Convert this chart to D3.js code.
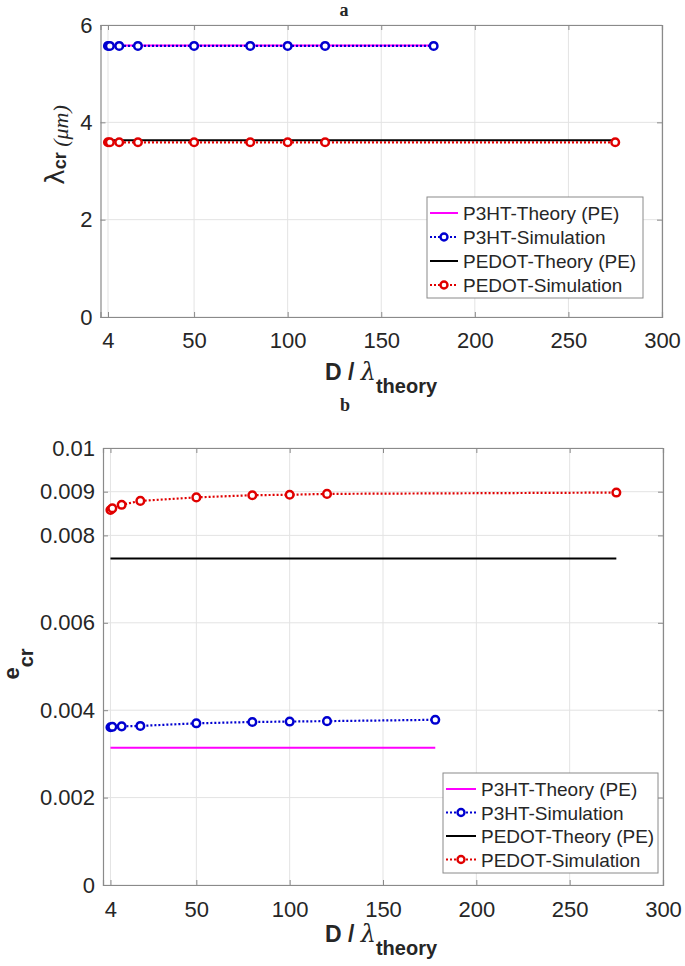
<!DOCTYPE html>
<html>
<head>
<meta charset="utf-8">
<script src="https://cdn.jsdelivr.net/npm/d3@7"></script>
<style>
  body { margin: 0; background: #fff; }
  svg { display: block; }
  text { font-family: "Liberation Sans", Arial, sans-serif; fill: #262626; }
</style>
</head>
<body>
<svg id="chart" width="685" height="966"></svg>
<script>
// ── Data ──
const xP3HT = [4, 5, 10, 20, 50, 80, 100, 120, 178];
const xPEDOT = [4, 5, 10, 20, 50, 80, 100, 120, 275];

// panel a: critical wavelength (µm)
const lamP3HTTheory = [5.58, 5.58];      // at x = 4 and 178
const lamP3HTSim = [5.57, 5.57, 5.57, 5.57, 5.57, 5.57, 5.57, 5.57, 5.57];
const lamPEDOTTheory = [3.63, 3.63];     // at x = 4 and 275
const lamPEDOTSim = [3.59, 3.59, 3.59, 3.59, 3.59, 3.59, 3.59, 3.59, 3.59];

// panel b: critical strain
const eP3HTTheory = [0.00314, 0.00314];
const eP3HTSim = [0.00361, 0.00362, 0.00363, 0.00364, 0.00370, 0.00373, 0.00374, 0.00375, 0.00378];
const ePEDOTTheory = [0.00747, 0.00747];
const ePEDOTSim = [0.00858, 0.00862, 0.00870, 0.00879, 0.00887, 0.00892, 0.00893, 0.00895, 0.00898];

const xTicks = [4, 50, 100, 150, 200, 250, 300];
const yTicksA = [0, 2, 4, 6];
const yTicksB = [0, 0.002, 0.004, 0.006, 0.008, 0.009, 0.01];
const legendLabels = ["P3HT-Theory (PE)", "P3HT-Simulation", "PEDOT-Theory (PE)", "PEDOT-Simulation"];

const C = { magenta: "#ff00ff", blue: "#0000d0", black: "#000", red: "#e00000" };

const svg = d3.select("#chart");

// ── Panel ──
function drawPanel(cfg) {
  const x = d3.scaleLinear().domain([0, 300]).range([cfg.left, cfg.right]);
  const y = d3.scaleLinear().domain(cfg.yDomain).range([cfg.bottom, cfg.top]);
  const g = svg.append("g");

  // grid
  g.append("g").selectAll("line").data(xTicks).join("line")
    .attr("x1", d => x(d)).attr("x2", d => x(d))
    .attr("y1", cfg.top).attr("y2", cfg.bottom)
    .attr("stroke", "#e3e3e3").attr("stroke-width", 1);
  g.append("g").selectAll("line").data(cfg.yTicks).join("line")
    .attr("x1", cfg.left).attr("x2", cfg.right)
    .attr("y1", d => y(d)).attr("y2", d => y(d))
    .attr("stroke", "#e3e3e3").attr("stroke-width", 1);

  // axes (ticks inward, box)
  const ax = g.append("g").attr("transform", `translate(0,${cfg.bottom})`)
    .call(d3.axisBottom(x).tickValues(xTicks).tickSize(-5).tickPadding(cfg.xPad).tickFormat(d3.format("d")));
  const axTop = g.append("g").attr("transform", `translate(0,${cfg.top})`)
    .call(d3.axisTop(x).tickValues(xTicks).tickSize(-5).tickFormat(""));
  const ay = g.append("g").attr("transform", `translate(${cfg.left},0)`)
    .call(d3.axisLeft(y).tickValues(cfg.yTicks).tickSize(-5).tickPadding(8).tickFormat(cfg.yFormat));
  const ayR = g.append("g").attr("transform", `translate(${cfg.right},0)`)
    .call(d3.axisRight(y).tickValues(cfg.yTicks).tickSize(-5).tickFormat(""));
  [ax, axTop, ay, ayR].forEach(a => {
    a.select(".domain").attr("stroke", "#8a8a8a").attr("stroke-width", 1.2);
    a.selectAll(".tick line").attr("stroke", "#8a8a8a");
    a.selectAll(".tick text").attr("font-size", 22).attr("fill", "#262626")
      .attr("font-family", "'Liberation Sans', Arial, sans-serif");
  });

  const line = d3.line().x(d => x(d[0])).y(d => y(d[1]));

  // theory lines
  cfg.theory.forEach(s => {
    g.append("path").datum(s.xs.map((v, i) => [v, s.ys[i]]))
      .attr("d", line).attr("fill", "none")
      .attr("stroke", s.color).attr("stroke-width", 2);
  });
  // simulation series
  cfg.sims.forEach(s => {
    const pts = s.xs.map((v, i) => [v, s.ys[i]]);
    g.append("path").datum(pts)
      .attr("d", line).attr("fill", "none")
      .attr("stroke", s.color).attr("stroke-width", 2.2)
      .attr("stroke-dasharray", "2,2");
    g.append("g").selectAll("circle").data(pts).join("circle")
      .attr("cx", d => x(d[0])).attr("cy", d => y(d[1])).attr("r", 3.8)
      .attr("fill", "#fff").attr("stroke", s.color).attr("stroke-width", 2.5);
  });

  // legend
  const L = cfg.legend;
  const lg = g.append("g");
  lg.append("rect").attr("x", L.x).attr("y", L.y).attr("width", L.w).attr("height", L.h)
    .attr("fill", "#fff").attr("stroke", "#8a8a8a").attr("stroke-width", 1);
  const entries = [
    { color: C.magenta, dotted: false },
    { color: C.blue, dotted: true },
    { color: C.black, dotted: false },
    { color: C.red, dotted: true }
  ];
  entries.forEach((e, i) => {
    const cy = L.y + L.row0 + i * L.dy;
    lg.append("line").attr("x1", L.x + 3).attr("x2", L.x + 3 + L.sw)
      .attr("y1", cy).attr("y2", cy)
      .attr("stroke", e.color).attr("stroke-width", 2)
      .attr("stroke-dasharray", e.dotted ? "2,2" : null);
    if (e.dotted) {
      lg.append("circle").attr("cx", L.x + 3 + L.sw / 2).attr("cy", cy).attr("r", 3.5)
        .attr("fill", "#fff").attr("stroke", e.color).attr("stroke-width", 2.4);
    }
    lg.append("text").attr("x", L.x + L.sw + 8).attr("y", cy + 7)
      .attr("font-size", 19).text(legendLabels[i]);
  });

  // title
  g.append("text").attr("x", cfg.titleX).attr("y", cfg.titleY)
    .attr("text-anchor", "middle").attr("font-size", 18).attr("font-weight", "bold")
    .style("font-family", "'Liberation Serif', 'Times New Roman', serif")
    .text(cfg.title);

  // x label
  const xl = g.append("text").attr("x", 381).attr("y", cfg.xLabelY)
    .attr("text-anchor", "middle").attr("font-weight", "bold").attr("fill", "#262626");
  xl.append("tspan").attr("font-size", 23).text("D / ");
  xl.append("tspan").attr("font-size", 24).attr("font-weight", "normal")
    .style("font-family", "'DejaVu Serif', serif").style("font-style", "italic").text("λ");
  xl.append("tspan").attr("font-size", 20).attr("dy", 13).text("theory");

  return g;
}

drawPanel({
  left: 100.5, right: 662, top: 25, bottom: 317,
  yDomain: [0, 6], yTicks: yTicksA, yFormat: d3.format("d"), xPad: 15,
  theory: [
    { xs: [xP3HT[0], xP3HT[xP3HT.length - 1]], ys: lamP3HTTheory, color: C.magenta },
    { xs: [xPEDOT[0], xPEDOT[xPEDOT.length - 1]], ys: lamPEDOTTheory, color: C.black }
  ],
  sims: [
    { xs: xP3HT, ys: lamP3HTSim, color: C.blue },
    { xs: xPEDOT, ys: lamPEDOTSim, color: C.red }
  ],
  legend: { x: 427, y: 197, w: 216, h: 101, row0: 16, dy: 24, sw: 28 },
  title: "a", titleX: 344, titleY: 16, xLabelY: 380
});

drawPanel({
  left: 103, right: 663, top: 448, bottom: 885,
  yDomain: [0, 0.01], yTicks: yTicksB, yFormat: d => d === 0 ? "0" : d3.format(".3~f")(d), xPad: 16,
  theory: [
    { xs: [xP3HT[0], xP3HT[xP3HT.length - 1]], ys: eP3HTTheory, color: C.magenta },
    { xs: [xPEDOT[0], xPEDOT[xPEDOT.length - 1]], ys: ePEDOTTheory, color: C.black }
  ],
  sims: [
    { xs: xP3HT, ys: eP3HTSim, color: C.blue },
    { xs: xPEDOT, ys: ePEDOTSim, color: C.red }
  ],
  legend: { x: 443, y: 773, w: 215, h: 100, row0: 16, dy: 23.5, sw: 30 },
  title: "b", titleX: 345, titleY: 411, xLabelY: 942
});

// ── Y labels ──
const yla = svg.append("text").attr("transform", "translate(64,145) rotate(-90)")
  .attr("text-anchor", "middle");
yla.append("tspan").attr("font-size", 26).style("font-family", "'DejaVu Sans', sans-serif").text("λ");
yla.append("tspan").attr("font-size", 18).attr("font-weight", "bold").attr("dy", 2).text("cr");
yla.append("tspan").attr("font-size", 22).attr("dy", 2).style("font-style", "italic")
  .style("font-family", "'Liberation Serif', serif").text(" (μm)");

const ylb = svg.append("text").attr("transform", "translate(19,664) rotate(-90)")
  .attr("text-anchor", "middle").attr("font-weight", "bold");
ylb.append("tspan").attr("font-size", 22).text("e");
ylb.append("tspan").attr("font-size", 20).attr("dy", 14).text("cr");
</script>
</body>
</html>
